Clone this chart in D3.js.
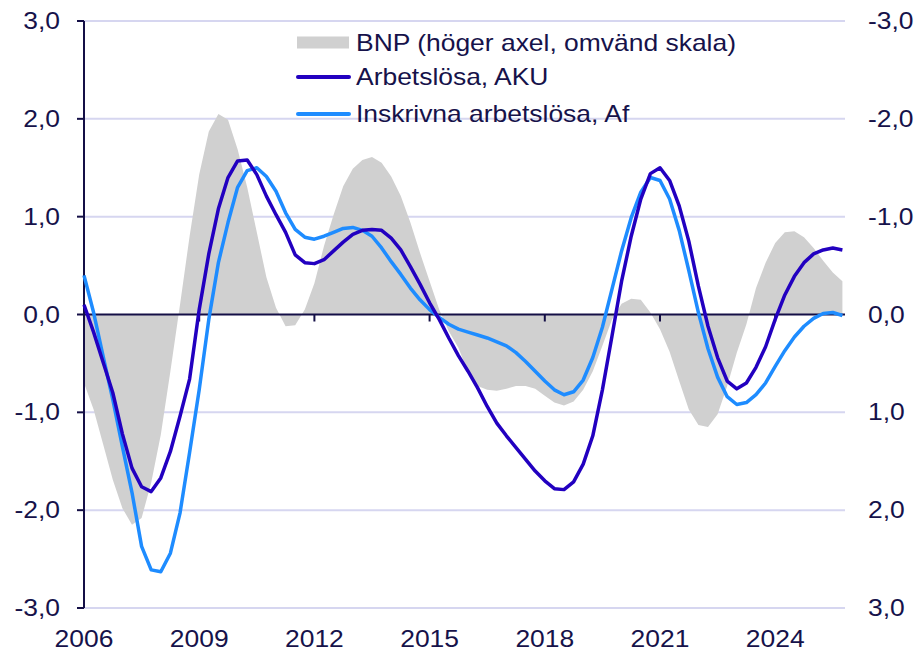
<!DOCTYPE html>
<html>
<head>
<meta charset="utf-8">
<script src="https://cdn.jsdelivr.net/npm/d3@7"></script>
<style>
  body { margin: 0; background: #fff; }
  text { font-family: "Liberation Sans", Arial, sans-serif; fill: #16124a; }
</style>
</head>
<body>
<div id="chart"></div>
<script>
// quarterly series, 2006 Q1 .. 2025 Q4
const startYear = 2006;
const quarters = d3.range(80).map((i) => startYear + i / 4);

// Arbetslösa, AKU (left axis)
const aku = [
  0.10, -0.18, -0.49, -0.80, -1.22, -1.57, -1.76, -1.81, -1.67, -1.40,
  -1.04, -0.66, 0.05, 0.62, 1.08, 1.40, 1.57, 1.58, 1.43, 1.21,
  1.02, 0.84, 0.61, 0.53, 0.52, 0.56, 0.65, 0.74, 0.82, 0.86,
  0.87, 0.86, 0.78, 0.66, 0.49, 0.31, 0.12, -0.05, -0.24, -0.42,
  -0.58, -0.75, -0.94, -1.11, -1.24, -1.36, -1.48, -1.60, -1.70, -1.78,
  -1.79, -1.71, -1.53, -1.24, -0.77, -0.22, 0.34, 0.80, 1.18, 1.44,
  1.50, 1.37, 1.11, 0.75, 0.29, -0.12, -0.44, -0.68, -0.76, -0.70,
  -0.54, -0.33, -0.05, 0.20, 0.39, 0.53, 0.62, 0.66, 0.68, 0.66,
];

// Inskrivna arbetslösa, Af (left axis)
const af = [
  0.40, 0.02, -0.43, -0.87, -1.35, -1.82, -2.37, -2.61, -2.63, -2.44,
  -2.03, -1.41, -0.77, -0.05, 0.53, 0.94, 1.30, 1.47, 1.50, 1.41,
  1.26, 1.04, 0.87, 0.79, 0.77, 0.80, 0.84, 0.88, 0.89, 0.86,
  0.80, 0.68, 0.54, 0.41, 0.27, 0.15, 0.05, -0.03, -0.10, -0.15,
  -0.18, -0.21, -0.24, -0.28, -0.32, -0.39, -0.48, -0.58, -0.68, -0.77,
  -0.82, -0.79, -0.67, -0.44, -0.13, 0.26, 0.65, 0.99, 1.25, 1.40,
  1.37, 1.18, 0.86, 0.45, 0.02, -0.35, -0.64, -0.84, -0.92, -0.90,
  -0.82, -0.70, -0.53, -0.37, -0.23, -0.12, -0.04, 0.01, 0.02, -0.01,
];

// BNP (right axis, reversed scale)
const bnp = [
  0.70, 0.97, 1.33, 1.69, 1.98, 2.15, 2.08, 1.72, 1.23, 0.58,
  -0.10, -0.80, -1.43, -1.87, -2.05, -1.99, -1.69, -1.30, -0.84, -0.38,
  -0.07, 0.12, 0.11, -0.05, -0.32, -0.70, -1.02, -1.31, -1.49, -1.58,
  -1.61, -1.55, -1.41, -1.21, -0.94, -0.63, -0.34, -0.05, 0.17, 0.34,
  0.59, 0.73, 0.77, 0.78, 0.76, 0.73, 0.73, 0.76, 0.83, 0.90,
  0.93, 0.89, 0.77, 0.58, 0.32, 0.05, -0.11, -0.16, -0.15, -0.02,
  0.15, 0.38, 0.68, 0.97, 1.13, 1.15, 1.02, 0.73, 0.39, 0.10,
  -0.27, -0.53, -0.73, -0.84, -0.85, -0.79, -0.68, -0.55, -0.43, -0.34,
];

const yearTicks = [2006, 2009, 2012, 2015, 2018, 2021, 2024];
const valueTicks = [-3, -2, -1, 0, 1, 2, 3];
const legendLabels = [
  "BNP (höger axel, omvänd skala)",
  "Arbetslösa, AKU",
  "Inskrivna arbetslösa, Af",
];

const colors = { bnp: "#d0d0d0", aku: "#2200c0", af: "#1e8cff", grid: "#d6d6f0", axis: "#140f46" };
const fontSize = 23;
const stretch = 1.15; // the original text is a little wider than it is tall

const width = 918, height = 652;
const plot = { left: 84, right: 845, top: 21, bottom: 608 };

const svg = d3.select("#chart").append("svg")
  .attr("width", width)
  .attr("height", height);

const x = d3.scaleLinear().domain([2006, 2025.75]).range([plot.left, 842.4]);
const yLeft = d3.scaleLinear().domain([-3, 3]).range([plot.bottom, plot.top]);
const yRight = d3.scaleLinear().domain([3, -3]).range([plot.bottom, plot.top]);

const fmt = (v) => d3.format(".1f")(v).replace("−", "-").replace(".", ",");

// helper for horizontally stretched text
function label(g, tx, ty, str, anchor) {
  return g.append("text")
    .attr("transform", `translate(${tx},${ty}) scale(${stretch},1)`)
    .attr("text-anchor", anchor)
    .style("font-size", fontSize + "px")
    .text(str);
}

// gridlines
svg.append("g").selectAll("line")
  .data(valueTicks.filter((d) => d !== 0))
  .join("line")
  .attr("x1", plot.left).attr("x2", plot.right)
  .attr("y1", (d) => yLeft(d)).attr("y2", (d) => yLeft(d))
  .attr("stroke", colors.grid)
  .attr("stroke-width", 2);

// BNP area
const area = d3.area()
  .x((d, i) => x(quarters[i]))
  .y0(yRight(0))
  .y1((d) => yRight(d));
svg.append("path")
  .datum(bnp)
  .attr("d", area)
  .attr("fill", colors.bnp);

// zero line with year ticks
svg.append("line")
  .attr("x1", plot.left).attr("x2", plot.right)
  .attr("y1", yLeft(0)).attr("y2", yLeft(0))
  .attr("stroke", colors.axis).attr("stroke-width", 2);
svg.append("g").selectAll("line")
  .data(yearTicks.slice(1))
  .join("line")
  .attr("x1", (d) => x(d)).attr("x2", (d) => x(d))
  .attr("y1", yLeft(0)).attr("y2", yLeft(0) + 7)
  .attr("stroke", colors.axis).attr("stroke-width", 2);

// left axis line and ticks
svg.append("line")
  .attr("x1", plot.left).attr("x2", plot.left)
  .attr("y1", plot.top).attr("y2", plot.bottom)
  .attr("stroke", colors.axis).attr("stroke-width", 2);
svg.append("g").selectAll("line")
  .data(valueTicks)
  .join("line")
  .attr("x1", plot.left - 7).attr("x2", plot.left)
  .attr("y1", (d) => yLeft(d)).attr("y2", (d) => yLeft(d))
  .attr("stroke", colors.axis).attr("stroke-width", 2);

// lines
const line = d3.line().x((d, i) => x(quarters[i])).y((d) => yLeft(d));
svg.append("path").datum(af)
  .attr("d", line)
  .attr("fill", "none").attr("stroke", colors.af)
  .attr("stroke-width", 3.5).attr("stroke-linejoin", "round");
svg.append("path").datum(aku)
  .attr("d", line)
  .attr("fill", "none").attr("stroke", colors.aku)
  .attr("stroke-width", 3.5).attr("stroke-linejoin", "round");

// axis labels
const labels = svg.append("g");
valueTicks.forEach((v) => {
  label(labels, 60, yLeft(v) + 8, fmt(v), "end");
  label(labels, 868, yRight(v) + 8, fmt(v), "start");
});
yearTicks.forEach((yr) => label(labels, x(yr), 647, String(yr), "middle"));

// legend
const legend = svg.append("g");
const rowY = [42.5, 77, 114];
legend.append("rect")
  .attr("x", 297).attr("y", rowY[0] - 6)
  .attr("width", 52).attr("height", 12)
  .attr("fill", colors.bnp);
[colors.aku, colors.af].forEach((c, i) => {
  legend.append("line")
    .attr("x1", 298).attr("x2", 349)
    .attr("y1", rowY[i + 1]).attr("y2", rowY[i + 1])
    .attr("stroke", c).attr("stroke-width", 4)
    .attr("stroke-linecap", "round");
});
legendLabels.forEach((t, i) => label(legend, 356, rowY[i] + 8, t, "start"));
</script>
</body>
</html>
